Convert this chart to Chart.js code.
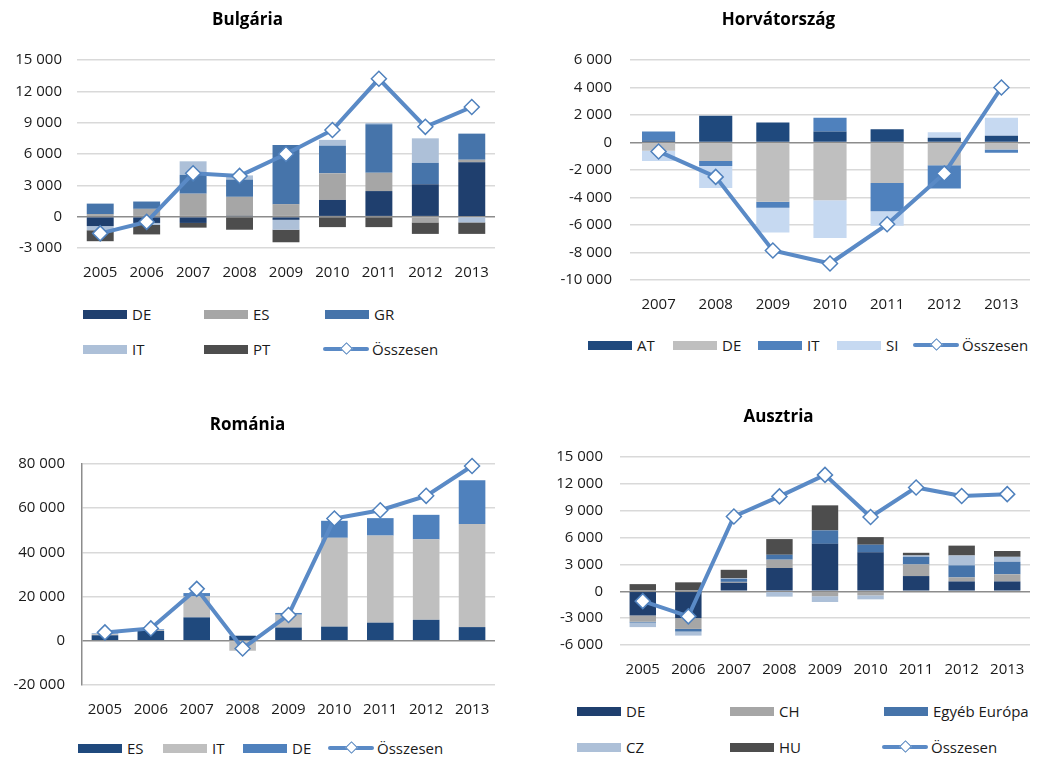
<!DOCTYPE html>
<html lang="hu">
<head>
<meta charset="utf-8">
<title>Hazautalások</title>
<script src="https://cdn.jsdelivr.net/npm/chart.js@4.4.1/dist/chart.umd.min.js"></script>
<style>
  body { margin: 0; background: #fff; font-family: 'Open Sans', sans-serif; }
  #page { position: relative; width: 1039px; height: 758px; overflow: hidden; }
  canvas { position: absolute; }
  .legend-item { position: absolute; display: flex; align-items: center; font-size: 15px; color: #1a1a1a; white-space: nowrap; transform: translateY(-50%); }
  .sw { width: 44px; height: 9px; margin-right: 5px; }
  .ln { position: relative; width: 46px; height: 4px; margin-right: 3px; border-radius: 2px; }
  .ln i { position: absolute; left: 19px; top: -3px; width: 9px; height: 9px; background: #fff; border: 1.5px solid; box-sizing: border-box; transform: rotate(45deg); }
</style>
</head>
<body>
<div id="page">
  <canvas id="bg" width="519" height="290" style="left:0;top:0"></canvas>
  <canvas id="hr" width="520" height="330" style="left:519px;top:0"></canvas>
  <canvas id="ro" width="519" height="330" style="left:0;top:400px"></canvas>
  <canvas id="at" width="520" height="290" style="left:519px;top:400px"></canvas>
</div>
<script>
// --- data ---
const years9 = ['2005', '2006', '2007', '2008', '2009', '2010', '2011', '2012', '2013'];
const years7 = ['2007', '2008', '2009', '2010', '2011', '2012', '2013'];

// Bulgária
const bgDE = [-900, -600, -600, 50, -300, 1600, 2450, 3100, 5200];
const bgES = [250, 750, 2200, 1850, 1200, 2550, 1750, -550, 250];
const bgGR = [1000, 700, 1800, 1650, 5650, 2650, 4650, 2050, 2500];
const bgIT = [-400, -200, 1300, 400, -950, 550, 120, 2350, -550];
const bgPT = [-1050, -900, -450, -1250, -1200, -1000, -1000, -1100, -1100];
const bgTotal = [-1600, -500, 4150, 3900, 6000, 8300, 13200, 8600, 10500];

// Horvátország
const hrAT = [150, 1950, 1450, 800, 970, 350, 500];
const hrDE = [-600, -1350, -4300, -4200, -2950, -1650, -500];
const hrIT = [650, -350, -450, 1000, -2050, -1700, -250];
const hrSI = [-750, -1600, -1800, -2750, -1050, 400, 1300];
const hrTotal = [-650, -2500, -7850, -8800, -5950, -2250, 4000];

// Románia
const roES = [2500, 4500, 10600, 2300, 6000, 6400, 8200, 9500, 6200];
const roIT = [500, 400, 9500, -4500, 5800, 40200, 39400, 36400, 46700];
const roDE = [300, 300, 1500, 0, 800, 7700, 7900, 11100, 19800];
const roTotal = [3800, 5600, 23500, -3500, 11700, 55300, 59100, 65600, 79100];

// Ausztria
const atDE = [-2700, -3000, 950, 2600, 5300, 4350, 1700, 1100, 1100];
const atCH = [-700, -1200, 100, 930, -550, -450, 1300, 450, 800];
const atEU = [-100, -300, 350, 550, 1500, 850, 850, 1350, 1400];
const atCZ = [-500, -450, 50, -600, -650, -450, 150, 1100, 550];
const atHU = [800, 1000, 950, 1750, 2800, 850, 300, 1100, 650];
const atTotal = [-1100, -2800, 8350, 10600, 13000, 8300, 11600, 10650, 10850];

const lineColor = '#5a8ac6';
const markerBorder = '#4f81bd';

Chart.defaults.font.family = "'Open Sans', sans-serif";
Chart.defaults.font.size = 15;
Chart.defaults.color = '#1a1a1a';

const fmt = v => (v < 0 ? '-' : '') + String(Math.abs(v)).replace(/\B(?=(\d{3})+(?!\d))/g, ' ');

function barSet(label, data, color) {
  return { type: 'bar', label, data, backgroundColor: color, stack: 'bars', order: 2,
           barPercentage: 0.58, categoryPercentage: 1 };
}

function totalSet(data) {
  return { type: 'line', label: 'Összesen', data, stack: 'total', order: 0, clip: false,
           borderColor: lineColor, borderWidth: 4, tension: 0,
           pointStyle: 'rectRot', pointRadius: 7.5, pointHoverRadius: 7.5,
           pointBackgroundColor: '#fff', pointBorderColor: markerBorder, pointBorderWidth: 1.5 };
}

function makeChart(id, title, labels, datasets, axis, box) {
  return new Chart(document.getElementById(id), {
    data: { labels, datasets },
    options: {
      responsive: false,
      animation: false,
      layout: { padding: { left: 0, right: box.right, top: 0, bottom: 2 } },
      plugins: {
        legend: { display: false },
        tooltip: { enabled: false },
        title: { display: true, text: title, color: '#000',
                 font: { size: 17, weight: 'bold' },
                 padding: { top: box.titleTop, bottom: box.titleBottom } }
      },
      scales: {
        x: {
          stacked: true,
          grid: { display: false },
          border: { display: false },
          ticks: { padding: 8, maxRotation: 0 },
          afterFit: s => { s.height = box.xHeight; }
        },
        y: {
          stacked: true,
          min: axis.min, max: axis.max,
          ticks: { stepSize: axis.step, padding: box.yPad, callback: v => fmt(v) },
          grid: { drawTicks: false, lineWidth: 1.5,
                  color: c => (c.tick && c.tick.value === 0) ? '#8c8c8c' : '#d9d9d9' },
          border: { display: !!axis.line, color: '#8c8c8c', width: 1.5 },
          afterFit: s => { s.width = box.yWidth; }
        }
      }
    }
  });
}

// HTML legend built from the chart's datasets
function buildLegend(chart, pos) {
  const page = document.getElementById('page');
  chart.data.datasets.forEach((ds, i) => {
    const item = document.createElement('div');
    item.className = 'legend-item';
    item.style.left = pos[i][0] + 'px';
    item.style.top = pos[i][1] + 'px';
    if (ds.type === 'line') {
      const ln = document.createElement('span');
      ln.className = 'ln';
      ln.style.background = ds.borderColor;
      const d = document.createElement('i');
      d.style.borderColor = ds.pointBorderColor;
      ln.appendChild(d);
      item.appendChild(ln);
    } else {
      const sw = document.createElement('span');
      sw.className = 'sw';
      sw.style.background = ds.backgroundColor;
      item.appendChild(sw);
    }
    item.appendChild(document.createTextNode(ds.label));
    page.appendChild(item);
  });
}

const bg = makeChart('bg', 'Bulgária', years9, [
  totalSet(bgTotal),
  barSet('DE', bgDE, '#1f3f6e'),
  barSet('ES', bgES, '#a6a6a6'),
  barSet('GR', bgGR, '#4674aa'),
  barSet('IT', bgIT, '#adc0d8'),
  barSet('PT', bgPT, '#4d4d4d')
], { min: -3000, max: 15000, step: 3000 },
   { right: 24, titleTop: 10, titleBottom: 29.6, xHeight: 40, yWidth: 77, yPad: 15 });

const hr = makeChart('hr', 'Horvátország', years7, [
  totalSet(hrTotal),
  barSet('AT', hrAT, '#1f497d'),
  barSet('DE', hrDE, '#bfbfbf'),
  barSet('IT', hrIT, '#4f81bd'),
  barSet('SI', hrSI, '#c6d9f1')
], { min: -10000, max: 6000, step: 2000 },
   { right: 1, titleTop: 10, titleBottom: 29.6, xHeight: 48, yWidth: 111, yPad: 18 });

const ro = makeChart('ro', 'Románia', years9, [
  totalSet(roTotal),
  barSet('ES', roES, '#1f497d'),
  barSet('IT', roIT, '#bfbfbf'),
  barSet('DE', roDE, '#4f81bd')
], { min: -20000, max: 80000, step: 20000, line: true },
   { right: 24, titleTop: 14.8, titleBottom: 28.8, xHeight: 43, yWidth: 82, yPad: 17 });

const at = makeChart('at', 'Ausztria', years9, [
  totalSet(atTotal),
  barSet('DE', atDE, '#1f3f6e'),
  barSet('CH', atCH, '#a6a6a6'),
  barSet('Egyéb Európa', atEU, '#4674aa'),
  barSet('CZ', atCZ, '#adc0d8'),
  barSet('HU', atHU, '#4d4d4d')
], { min: -6000, max: 15000, step: 3000 },
   { right: 1, titleTop: 6.8, titleBottom: 29.8, xHeight: 43, yWidth: 101, yPad: 17 });

// legend slots (page coordinates), in dataset order: total first, then bars
buildLegend(bg, [[323, 349], [83, 314], [204, 314], [325, 314], [83, 349], [204, 349]]);
buildLegend(hr, [[913, 345], [588, 345], [673, 345], [758, 345], [837, 345]]);
buildLegend(ro, [[328, 748], [78, 748], [163, 748], [243, 748]]);
buildLegend(at, [[882, 747], [577, 711], [730, 711], [884, 711], [577, 747], [730, 747]]);
</script>
</body>
</html>
